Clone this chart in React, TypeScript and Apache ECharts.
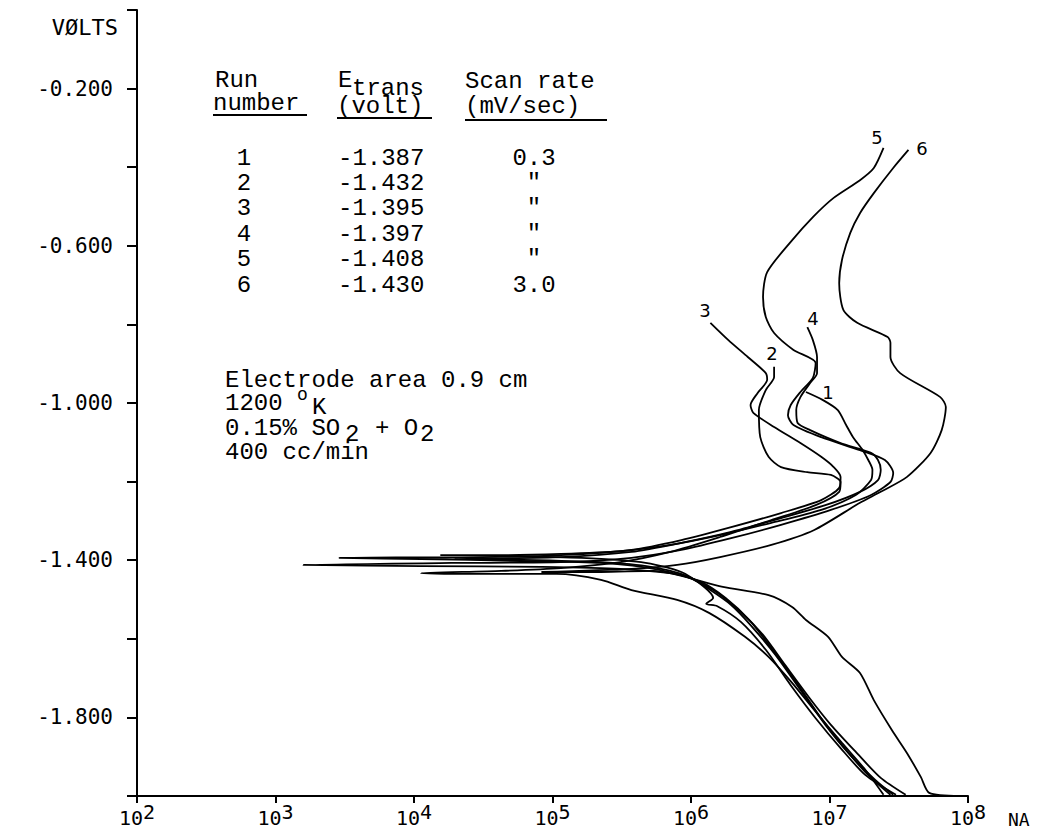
import React, { useEffect, useRef } from "react";
import * as echarts from "echarts";

// ---- axis text ----
const yTickLabels = ["-0.200", "-0.600", "-1.000", "-1.400", "-1.800"];
const yAxisTitle = "VØLTS";
const xUnit = "NA";

// ---- table text ----
const runNumbers = ["1", "2", "3", "4", "5", "6"];
const eTrans = ["-1.387", "-1.432", "-1.395", "-1.397", "-1.408", "-1.430"];
const scanRates = ["0.3", '"', '"', '"', '"', "3.0"];

// ---- curves: log10(current, nA) and potential (V) ----
const run1LogI = [6.83, 6.95, 7.06, 7.12, 7.17, 7.24, 7.28, 7.31, 7.30, 7.19, 6.94, 6.58, 6.21, 5.85, 5.49, 5.06, 4.63, 4.19, 4.63, 5.21, 5.64, 5.93, 6.14, 6.29, 6.43, 6.61, 6.79, 6.97, 7.15, 7.33, 7.46];
const run1Volts = [-0.972, -0.992, -1.018, -1.056, -1.087, -1.12, -1.145, -1.17, -1.196, -1.234, -1.272, -1.305, -1.336, -1.361, -1.377, -1.384, -1.387, -1.387, -1.389, -1.394, -1.405, -1.43, -1.476, -1.514, -1.565, -1.641, -1.73, -1.819, -1.896, -1.959, -1.997];

const run2LogI = [6.60, 6.60, 6.54, 6.49, 6.50, 6.56, 6.65, 6.84, 7.01, 7.08, 7.07, 6.90, 6.58, 6.21, 5.85, 5.49, 5.06, 4.63, 4.05, 4.49, 5.03, 5.35, 5.57, 5.90, 6.13, 6.39, 6.56, 6.73, 6.89, 7.09, 7.26, 7.39];
const run2Volts = [-0.908, -0.934, -0.967, -1.018, -1.087, -1.137, -1.163, -1.176, -1.183, -1.201, -1.226, -1.26, -1.298, -1.341, -1.379, -1.405, -1.42, -1.427, -1.433, -1.435, -1.435, -1.45, -1.476, -1.501, -1.534, -1.595, -1.646, -1.712, -1.781, -1.865, -1.934, -1.997];

const run3LogI = [6.14, 6.27, 6.41, 6.54, 6.55, 6.48, 6.43, 6.45, 6.60, 6.79, 6.94, 7.03, 7.08, 7.07, 6.94, 6.65, 6.29, 5.93, 5.57, 5.06, 4.49, 3.46, 4.05, 4.77, 5.35, 5.78, 6.07, 6.25, 6.42, 6.58, 6.76, 6.94, 7.12, 7.28, 7.44];
const run3Volts = [-0.796, -0.84, -0.883, -0.924, -0.941, -0.975, -1.005, -1.025, -1.061, -1.102, -1.137, -1.163, -1.188, -1.216, -1.247, -1.28, -1.316, -1.349, -1.374, -1.387, -1.392, -1.394, -1.397, -1.402, -1.407, -1.425, -1.455, -1.496, -1.552, -1.623, -1.71, -1.802, -1.883, -1.947, -1.997];

const run4LogI = [6.84, 6.88, 6.91, 6.91, 6.86, 6.79, 6.76, 6.77, 6.86, 7.08, 7.30, 7.35, 7.37, 7.35, 7.22, 6.97, 6.65, 6.29, 5.93, 5.57, 5.06, 4.29, 4.77, 5.35, 5.71, 6.00, 6.16, 6.11, 6.19, 6.36, 6.54, 6.72, 6.90, 7.08, 7.26, 7.48];
const run4Volts = [-0.807, -0.84, -0.883, -0.924, -0.949, -0.985, -1.018, -1.051, -1.069, -1.102, -1.127, -1.145, -1.17, -1.196, -1.226, -1.26, -1.293, -1.328, -1.356, -1.379, -1.392, -1.397, -1.399, -1.405, -1.417, -1.445, -1.496, -1.511, -1.517, -1.557, -1.628, -1.718, -1.802, -1.878, -1.947, -1.997];

const run5LogI = [7.39, 7.32, 7.22, 7.03, 6.88, 6.72, 6.55, 6.52, 6.54, 6.60, 6.74, 6.90, 6.88, 6.79, 6.72, 6.70, 6.74, 6.94, 7.22, 7.40, 7.46, 7.44, 7.30, 7.01, 6.65, 6.29, 5.93, 5.57, 5.06, 4.27, 3.20, 4.05, 4.92, 5.49, 5.93, 6.16, 6.36, 6.52, 6.68, 6.85, 7.01, 7.19, 7.37, 7.55];
const run5Volts = [-0.351, -0.402, -0.433, -0.478, -0.527, -0.59, -0.667, -0.73, -0.781, -0.822, -0.865, -0.898, -0.936, -0.972, -1.005, -1.031, -1.056, -1.087, -1.12, -1.145, -1.178, -1.201, -1.234, -1.272, -1.31, -1.344, -1.374, -1.394, -1.405, -1.407, -1.412, -1.415, -1.417, -1.422, -1.438, -1.476, -1.532, -1.59, -1.667, -1.748, -1.819, -1.888, -1.954, -1.997];

const run6LogI = [7.57, 7.46, 7.32, 7.22, 7.15, 7.09, 7.07, 7.10, 7.20, 7.42, 7.44, 7.44, 7.51, 7.80, 7.84, 7.81, 7.73, 7.56, 7.37, 7.22, 6.89, 6.58, 6.21, 5.90, 5.57, 4.92, 5.35, 5.73, 6.23, 6.56, 6.73, 6.83, 6.99, 7.09, 7.22, 7.32, 7.45, 7.56, 7.66, 7.72, 7.94];
const run6Volts = [-0.356, -0.402, -0.466, -0.517, -0.567, -0.636, -0.695, -0.763, -0.796, -0.832, -0.847, -0.883, -0.924, -0.985, -1.01, -1.069, -1.127, -1.188, -1.226, -1.254, -1.323, -1.361, -1.392, -1.412, -1.422, -1.43, -1.43, -1.427, -1.468, -1.489, -1.519, -1.552, -1.595, -1.646, -1.687, -1.756, -1.832, -1.891, -1.952, -1.992, -2.0];

const runs = [
  { name: "1", logI: run1LogI, volts: run1Volts },
  { name: "2", logI: run2LogI, volts: run2Volts },
  { name: "3", logI: run3LogI, volts: run3Volts },
  { name: "4", logI: run4LogI, volts: run4Volts },
  { name: "5", logI: run5LogI, volts: run5Volts },
  { name: "6", logI: run6LogI, volts: run6Volts },
];

const TYPE = '"Liberation Mono", "Courier New", monospace';
const PLOT = '"DejaVu Sans Mono", monospace';

function txt(x: number, y: number, text: string, size = 24, family = TYPE, align = "left") {
  return {
    type: "text",
    x,
    y,
    silent: true,
    style: { text, fill: "#000", fontSize: size, fontFamily: family, align, verticalAlign: "middle" },
  };
}
function ln(x1: number, y1: number, x2: number, y2: number) {
  return { type: "line", silent: true, shape: { x1, y1, x2, y2 }, style: { stroke: "#000", lineWidth: 2 } };
}

export default function App() {
  const ref = useRef<HTMLDivElement>(null);
  useEffect(() => {
    if (!ref.current) return;
    const chart = echarts.init(ref.current, null, { renderer: "svg" });

    const graphic: any[] = [];
    graphic.push(txt(118, 27, yAxisTitle, 22, PLOT, "right"));
    graphic.push(txt(1008, 819, xUnit, 18, PLOT));
    // table header
    graphic.push(txt(215, 80, "Run"));
    graphic.push(txt(213, 103, "number"));
    graphic.push(ln(213, 115, 307, 115));
    graphic.push(txt(338, 80, "E"));
    graphic.push(txt(352, 88, "trans"));
    graphic.push(txt(337, 106, "(volt)"));
    graphic.push(ln(337, 118, 432, 118));
    graphic.push(txt(465, 81, "Scan rate"));
    graphic.push(txt(465, 106, "(mV/sec)"));
    graphic.push(ln(465, 120, 607, 120));
    runNumbers.forEach((r, i) => {
      const y = 158 + 25.4 * i;
      graphic.push(txt(244, y, r, 24, TYPE, "center"));
      graphic.push(txt(338, y, eTrans[i]));
      graphic.push(txt(534, y, scanRates[i], 24, TYPE, "center"));
    });
    // conditions
    graphic.push(txt(225, 380, "Electrode area"));
    graphic.push(txt(441, 380, "0.9 cm"));
    graphic.push(txt(225, 403, "1200"));
    graphic.push(txt(297, 395, "o", 18));
    graphic.push(txt(312, 407, "K"));
    graphic.push(txt(225, 428, "0.15% SO"));
    graphic.push(txt(345, 434, "2"));
    graphic.push(txt(375, 428, "+ O"));
    graphic.push(txt(420, 434, "2"));
    graphic.push(txt(225, 452, "400 cc/min"));
    // curve labels
    const lbl: [string, number, number][] = [
      ["5", 877, 137], ["6", 922, 148], ["3", 705, 310], ["4", 813, 318], ["2", 772, 353], ["1", 828, 392],
    ];
    lbl.forEach(([t, x, y]) => graphic.push(txt(x, y, t, 18, '"DejaVu Sans", sans-serif', "center")));

    const axisLineStyle = { color: "#000", width: 2 };
    chart.setOption({
      animation: false,
      backgroundColor: "#fff",
      grid: { left: 137, right: 71, top: 10, bottom: 35 },
      xAxis: {
        type: "log",
        logBase: 10,
        min: 100,
        max: 1e8,
        splitNumber: 6,
        axisLine: { show: true, onZero: false, lineStyle: axisLineStyle },
        axisTick: { show: true, inside: false, length: 7, lineStyle: axisLineStyle },
        minorTick: { show: false },
        splitLine: { show: false },
        axisLabel: {
          margin: 6,
          formatter: (v: number) => `{b|10}{e|${Math.round(Math.log10(v))}}`,
          rich: {
            b: { fontFamily: PLOT, fontSize: 20, color: "#000", lineHeight: 26, verticalAlign: "bottom" },
            e: { fontFamily: PLOT, fontSize: 20, color: "#000", lineHeight: 12, verticalAlign: "top" },
          },
        },
      },
      yAxis: {
        type: "value",
        min: -2,
        max: 0,
        interval: 0.2,
        axisLine: { show: true, onZero: false, lineStyle: axisLineStyle },
        axisTick: { show: true, inside: false, length: 10, lineStyle: axisLineStyle },
        splitLine: { show: false },
        axisLabel: {
          margin: 24,
          fontFamily: PLOT,
          fontSize: 21,
          color: "#000",
          formatter: (v: number) => {
            const s = v.toFixed(3);
            return yTickLabels.includes(s) ? s : "";
          },
        },
      },
      series: runs.map((r) => ({
        name: "Run " + r.name,
        type: "line",
        symbol: "none",
        smooth: 0.25,
        silent: true,
        lineStyle: { color: "#000", width: 1.8 },
        data: r.logI.slice(0, Math.min(r.logI.length, r.volts.length)).map((l, i) => [Math.pow(10, l), r.volts[i]]),
      })),
      graphic,
    });
    return () => chart.dispose();
  }, []);
  return (
    <div
      ref={ref}
      style={{ position: "fixed", left: 0, top: 0, width: 1039, height: 831, background: "#fff" }}
    />
  );
}
